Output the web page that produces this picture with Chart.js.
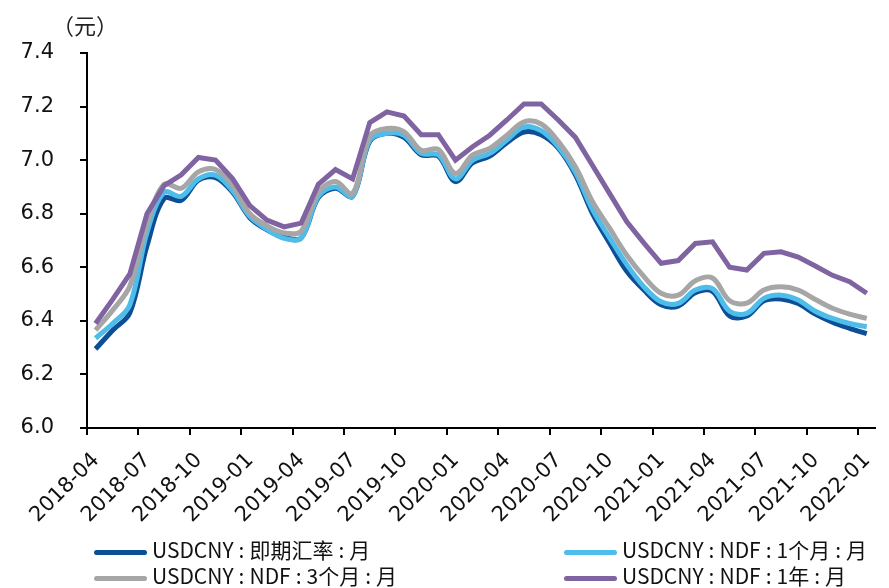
<!DOCTYPE html>
<html>
<head>
<meta charset="utf-8">
<script src="https://cdn.jsdelivr.net/npm/chart.js@4"></script>
<style>
  body { margin: 0; background: #fff; }
  #wrap { position: relative; width: 889px; height: 588px; }
  #unit { position: absolute; left: 52px; top: 8px; font: 22px "Noto Sans CJK SC"; color: #222; }
  .lg { position: absolute; height: 26px; line-height: 26px; font: 21px "Noto Sans CJK SC"; color: #111; white-space: nowrap; }
  .lg i { display: inline-block; width: 53px; height: 5px; border-radius: 3px; vertical-align: middle; margin-right: 5px; }
  .lg b { font-weight: normal; margin: 0 5px; }
</style>
</head>
<body>
<div id="wrap">
  <canvas id="myChart" width="889" height="588"></canvas>
  <div id="unit">（元）</div>
  <div class="lg" style="left:94px;top:534px"><i style="background:#0d4f96"></i>USDCNY<b>:</b>即期汇率<b>:</b>月</div>
  <div class="lg" style="left:564px;top:534px"><i style="background:#4fbde9"></i>USDCNY<b>:</b>NDF<b>:</b>1个月<b>:</b>月</div>
  <div class="lg" style="left:94px;top:560px"><i style="background:#a6a6a6"></i>USDCNY<b>:</b>NDF<b>:</b>3个月<b>:</b>月</div>
  <div class="lg" style="left:564px;top:560px"><i style="background:#8064a2"></i>USDCNY<b>:</b>NDF<b>:</b>1年<b>:</b>月</div>
</div>
<script>
// monthly, 2018-04 .. 2022-01
var months = [];
for (var y = 2018; y <= 2022; y++) {
    for (var m = 1; m <= 12; m++) {
        if ((y == 2018 && m < 4) || (y == 2022 && m > 1)) continue;
        months.push(y + '-' + ('0' + m).slice(-2));
    }
}

var spot = [6.295, 6.365, 6.43, 6.68, 6.857, 6.85, 6.925, 6.935, 6.88, 6.785, 6.74, 6.712,
    6.71, 6.86, 6.895, 6.865, 7.07, 7.10, 7.085, 7.02, 7.015, 6.92, 6.99, 7.015,
    7.065, 7.105, 7.095, 7.045, 6.945, 6.80, 6.69, 6.585, 6.515, 6.46, 6.455, 6.505,
    6.51, 6.418, 6.418, 6.475, 6.482, 6.465, 6.425, 6.395, 6.372, 6.352];
var ndf1m = [6.335, 6.39, 6.46, 6.73, 6.88, 6.865, 6.93, 6.944, 6.885, 6.79, 6.742, 6.708,
    6.71, 6.865, 6.90, 6.865, 7.075, 7.10, 7.093, 7.025, 7.02, 6.93, 7.0, 7.025,
    7.075, 7.124, 7.11, 7.05, 6.955, 6.815, 6.71, 6.61, 6.527, 6.471, 6.465, 6.515,
    6.52, 6.436, 6.428, 6.484, 6.496, 6.478, 6.436, 6.409, 6.39, 6.378];
var ndf3m = [6.365, 6.44, 6.53, 6.76, 6.91, 6.895, 6.956, 6.965, 6.905, 6.80, 6.755, 6.728,
    6.735, 6.88, 6.92, 6.875, 7.09, 7.118, 7.106, 7.037, 7.04, 6.95, 7.019, 7.044,
    7.093, 7.143, 7.135, 7.07, 6.975, 6.845, 6.745, 6.645, 6.565, 6.503, 6.496, 6.55,
    6.56, 6.475, 6.466, 6.515, 6.527, 6.515, 6.48, 6.447, 6.425, 6.409];
var ndf1y = [6.39, 6.48, 6.575, 6.80, 6.905, 6.945, 7.01, 7.00, 6.93, 6.83, 6.776, 6.751,
    6.765, 6.91, 6.965, 6.93, 7.14, 7.18, 7.165, 7.095, 7.095, 7.00, 7.05, 7.093,
    7.15, 7.21, 7.21, 7.15, 7.085, 6.98, 6.875, 6.77, 6.69, 6.615, 6.625, 6.689,
    6.695, 6.60, 6.59, 6.652, 6.658, 6.638, 6.605, 6.57, 6.546, 6.503];

// points sit in the middle of each month
function pts(arr) {
    return arr.map(function (v, i) { return { x: i + 0.5, y: v }; });
}

function line(label, arr, color, order, tension) {
    return {
        label: label,
        data: pts(arr),
        borderColor: color,
        backgroundColor: color,
        borderWidth: 5,
        pointRadius: 0,
        tension: tension,
        order: order
    };
}

var chart = new Chart(document.getElementById('myChart'), {
    type: 'line',
    data: {
        datasets: [
            line('USDCNY:即期汇率:月', spot, '#0d4f96', 3, 0.35),
            line('USDCNY:NDF:1个月:月', ndf1m, '#4fbde9', 2, 0.35),
            line('USDCNY:NDF:3个月:月', ndf3m, '#a6a6a6', 1, 0.35),
            line('USDCNY:NDF:1年:月', ndf1y, '#8064a2', 0, 0)
        ]
    },
    options: {
        responsive: false,
        animation: false,
        layout: { padding: { top: 53, bottom: 65, left: 0, right: 0 } },
        plugins: { legend: { display: false }, tooltip: { enabled: false } },
        scales: {
            x: {
                type: 'linear',
                min: 0,
                max: 46,
                afterFit: function (s) { s.height = 95; },
                border: { color: '#000', width: 2 },
                grid: { drawOnChartArea: false, color: '#000', lineWidth: 2, tickLength: 7 },
                ticks: {
                    stepSize: 3,
                    includeBounds: false,
                    autoSkip: false,
                    minRotation: 45,
                    maxRotation: 45,
                    color: '#111',
                    font: { family: 'DejaVu Sans', size: 21 },
                    padding: 13,
                    labelOffset: 9,
                    callback: function (v) { return months[v]; }
                }
            },
            y: {
                min: 6.0,
                max: 7.4,
                afterFit: function (s) { s.width = 87; },
                border: { color: '#000', width: 2 },
                grid: { drawOnChartArea: false, color: '#000', lineWidth: 2, tickLength: 7 },
                ticks: {
                    stepSize: 0.2,
                    color: '#111',
                    font: { family: 'DejaVu Sans', size: 21 },
                    padding: 26,
                    callback: function (v) { return v.toFixed(1); }
                }
            }
        }
    }
});
</script>
</body>
</html>
